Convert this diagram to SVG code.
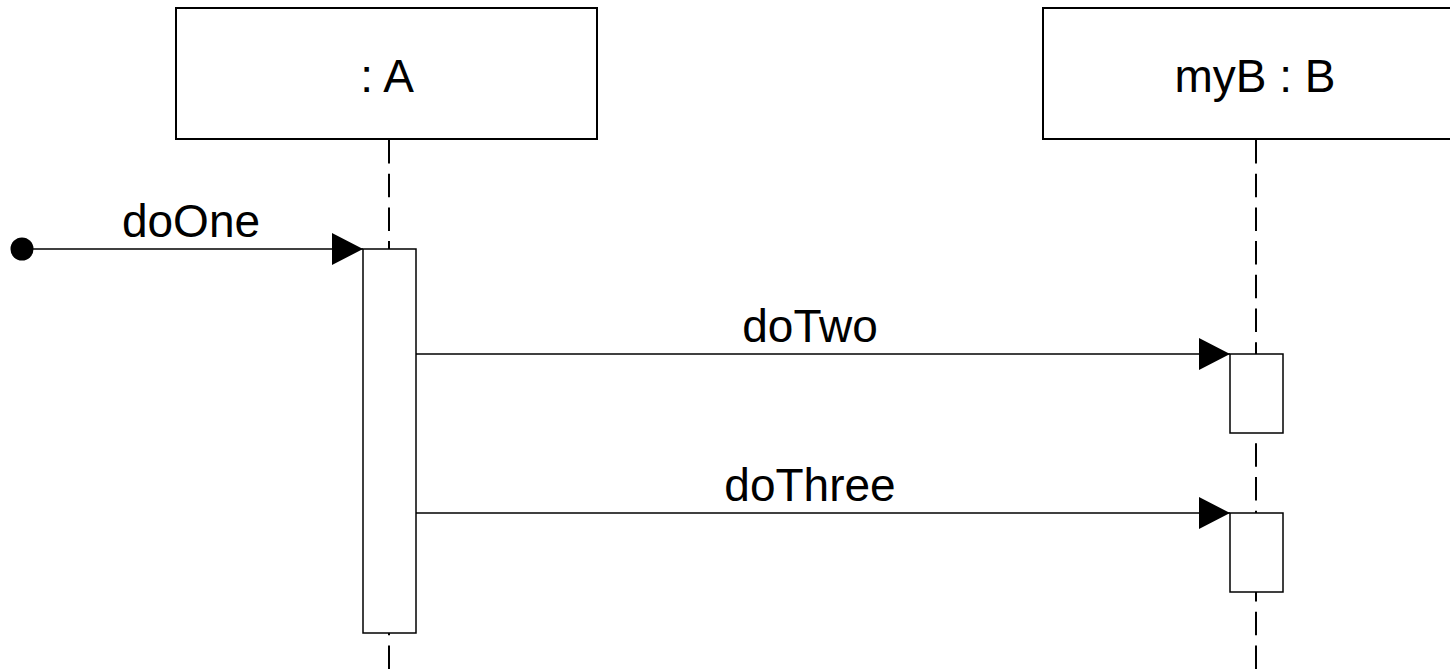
<svg xmlns="http://www.w3.org/2000/svg" width="1450" height="670" viewBox="0 0 1450 670">
<style>
.box{fill:#fff;stroke:#000;stroke-width:2}
.act{fill:#fff;stroke:#000;stroke-width:1.5}
.life{stroke:#000;stroke-width:2;stroke-dasharray:23.5 10.2;fill:none}
.msg{stroke:#000;stroke-width:1.5;fill:none}
.lbl{font-family:"Liberation Sans",Arial,sans-serif;font-size:46px;fill:#000;text-anchor:middle}
</style>
<defs>
<marker id="arr" markerWidth="32" markerHeight="32" refX="31" refY="16" orient="auto" markerUnits="userSpaceOnUse">
<path d="M0,0 L31,16 L0,32 Z" fill="#000"/>
</marker>
</defs>
<g id="lifeline-A">
<rect class="box" x="176" y="8" width="421" height="131"/>
<text class="lbl" x="387" y="92">: A</text>
<line class="life" x1="389" y1="140" x2="389" y2="670"/>
</g>
<g id="lifeline-B">
<rect class="box" x="1043" y="8" width="421" height="131"/>
<text class="lbl" x="1255" y="92">myB : B</text>
<line class="life" x1="1256" y1="140" x2="1256" y2="670"/>
</g>
<g id="activation-A">
<rect class="act" x="363" y="249" width="53" height="384"/>
</g>
<g id="activation-B1">
<rect class="act" x="1230" y="354" width="53" height="79"/>
</g>
<g id="activation-B2">
<rect class="act" x="1230" y="513" width="53" height="79"/>
</g>
<g id="start">
<circle cx="22" cy="249" r="11.5" fill="#000"/>
</g>
<g id="connectors">
<line class="msg" x1="22" y1="249" x2="363" y2="249" marker-end="url(#arr)"/>
<text class="lbl" x="191" y="237">doOne</text>
<line class="msg" x1="416" y1="354" x2="1230" y2="354" marker-end="url(#arr)"/>
<text class="lbl" x="810" y="342">doTwo</text>
<line class="msg" x1="416" y1="513" x2="1230" y2="513" marker-end="url(#arr)"/>
<text class="lbl" x="810" y="501">doThree</text>
</g>
</svg>
